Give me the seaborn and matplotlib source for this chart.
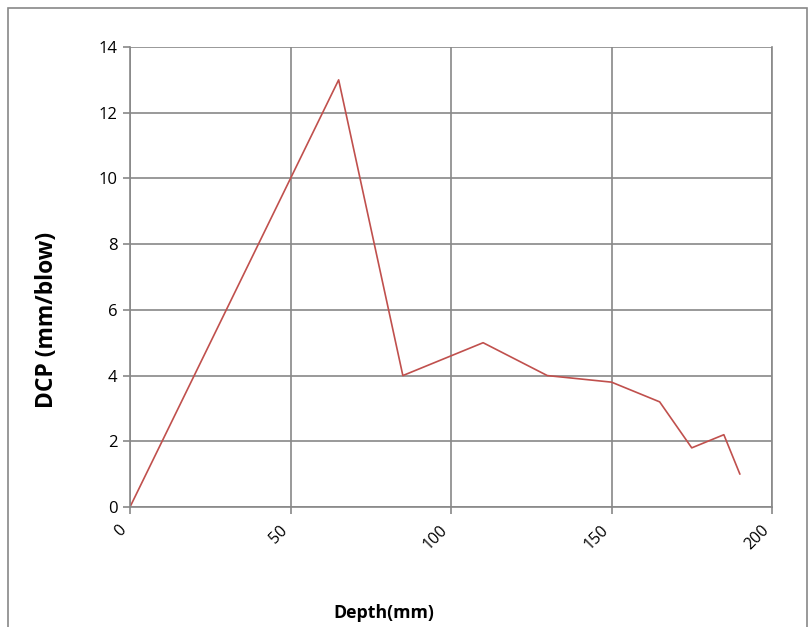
import pandas as pd
import numpy as np
import matplotlib
matplotlib.use('Agg')
import matplotlib.pyplot as plt
import seaborn as sns
from matplotlib.patches import Rectangle

depth = [0, 65, 85, 110, 130, 150, 165, 175, 185, 190]
dcp = [0, 13, 4, 5, 4, 3.8, 3.2, 1.8, 2.2, 1]
x_ticks = [0, 50, 100, 150, 200]
y_ticks = [0, 2, 4, 6, 8, 10, 12, 14]

df = pd.DataFrame({'Depth': depth, 'DCP': dcp})

sns.set_style('white')
plt.rcParams['font.family'] = ['Open Sans', 'DejaVu Sans']
plt.rcParams['text.color'] = 'black'

fig = plt.figure(figsize=(8.1, 6.27), dpi=100)
ax = fig.add_axes([130/810, 1-507/627, (772-130)/810, (507-47)/627])

sns.lineplot(x='Depth', y='DCP', data=df, color='#C0504D', linewidth=1.2, ax=ax, sort=False)

ax.set_xlim(0, 200)
ax.set_ylim(0, 14)
ax.set_xticks(x_ticks)
ax.set_yticks(y_ticks)
ax.set_xticklabels([str(t) for t in x_ticks], rotation=45, ha='right', fontsize=11.5, color='black')
ax.set_yticklabels([str(t) for t in y_ticks], fontsize=12, color='black')
ax.grid(True, color='#888888', linewidth=1.2)
ax.set_axisbelow(True)
for s in ax.spines.values():
    s.set_color('#888888')
    s.set_linewidth(1.2)
ax.spines['top'].set_visible(False)
ax.tick_params(axis='both', direction='out', length=5, color='#888888', width=1.2, pad=4)
ax.tick_params(axis='y', left=True)
ax.tick_params(axis='x', bottom=True, pad=6)
ax.set_xlabel('')
ax.set_ylabel('')

fig.text(47/810, 1-320/627, 'DCP (mm/blow)', rotation=90, fontsize=16.5, fontweight='bold',
         ha='center', va='center', color='black')
fig.text(384/810, 1-613/627, 'Depth(mm)', fontsize=12.8, fontweight='bold',
         ha='center', va='center', color='black')

fig.patches.append(Rectangle((8/810, -0.01), (807-8)/810, 1-8/627+0.01, transform=fig.transFigure,
                             fill=False, edgecolor='#888888', linewidth=1.2))

fig.savefig('out.png', dpi=100)
